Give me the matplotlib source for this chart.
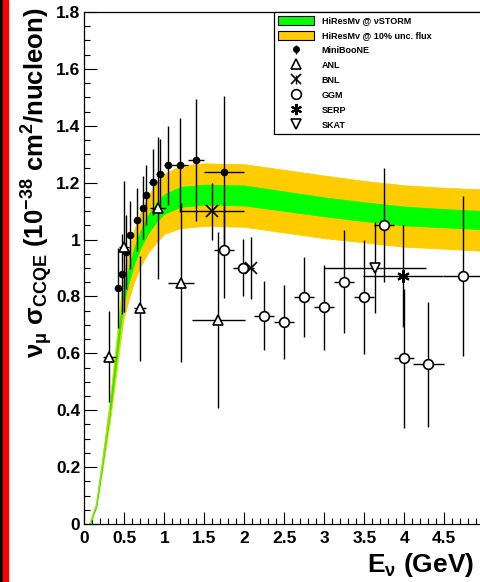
import numpy as np
import matplotlib
matplotlib.use("Agg")
import matplotlib.pyplot as plt
from matplotlib.patches import Patch, Rectangle

plt.rcParams['font.family'] = ['Liberation Sans', 'DejaVu Sans']
plt.rcParams['font.weight'] = 'bold'
plt.rcParams['mathtext.fontset'] = 'custom'
plt.rcParams['mathtext.rm'] = 'Liberation Sans:bold'
plt.rcParams['mathtext.it'] = 'Liberation Sans:bold'
plt.rcParams['mathtext.bf'] = 'Liberation Sans:bold'
plt.rcParams['mathtext.default'] = 'rm'

#prediction bands (HiResMv)
band_E = [0.07, 0.15, 0.22, 0.32, 0.40, 0.45, 0.49, 0.55, 0.62, 0.70, 0.80, 0.90,
          1.00, 1.20, 1.50, 2.00, 2.50, 3.00, 3.50, 4.00, 4.50, 5.00]
orange_lo = [0.0, 0.058, 0.18, 0.36, 0.53, 0.64, 0.72, 0.785, 0.85, 0.905, 0.955, 0.99,
             1.02, 1.04, 1.048, 1.045, 1.025, 1.005, 0.99, 0.975, 0.968, 0.96]
orange_hi = [0.0, 0.072, 0.22, 0.44, 0.65, 0.78, 0.88, 0.955, 1.03, 1.095, 1.155, 1.2,
             1.23, 1.26, 1.268, 1.265, 1.245, 1.225, 1.206, 1.191, 1.182, 1.176]
green_lo = [0.0, 0.063, 0.194, 0.388, 0.572, 0.689, 0.776, 0.844, 0.912, 0.97, 1.023, 1.062,
            1.091, 1.115, 1.123, 1.12, 1.101, 1.082, 1.065, 1.05, 1.043, 1.036]
green_hi = [0.0, 0.067, 0.206, 0.412, 0.608, 0.731, 0.824, 0.896, 0.968, 1.03, 1.087, 1.128,
            1.159, 1.185, 1.193, 1.19, 1.169, 1.148, 1.131, 1.116, 1.107, 1.1]

#MiniBooNE
mb_E = [0.42, 0.47, 0.52, 0.57, 0.655, 0.73, 0.77, 0.855, 0.95, 1.05, 1.2, 1.4, 1.75]
mb_v = [0.83, 0.88, 0.957, 1.015, 1.07, 1.112, 1.156, 1.202, 1.23, 1.261, 1.262, 1.279, 1.236]
mb_ey = [0.14, 0.14, 0.13, 0.12, 0.11, 0.11, 0.106, 0.115, 0.122, 0.138, 0.165, 0.215, 0.27]
mb_ex = [0.025, 0.025, 0.025, 0.025, 0.025, 0.025, 0.025, 0.05, 0.05, 0.05, 0.1, 0.1, 0.25]

#ANL
anl_E = [0.313, 0.50, 0.696, 0.92, 1.205, 1.675]
anl_v = [0.588, 0.975, 0.758, 1.11, 0.848, 0.717]
anl_ey = [0.16, 0.23, 0.185, 0.25, 0.28, 0.31]
anl_ex = [0.08, 0.06, 0.08, 0.1, 0.16, 0.33]

#BNL
bnl_E = [1.6, 2.09]
bnl_v = [1.1, 0.9]
bnl_ey = [0.10, 0.11]
bnl_ex = [0.4, 0.0]

#GGM
ggm_E = [1.75, 1.99, 2.24, 2.49, 2.74, 2.99, 3.24, 3.49, 3.74, 3.99, 4.3, 4.73]
ggm_v = [0.963, 0.901, 0.733, 0.711, 0.799, 0.762, 0.852, 0.799, 1.051, 0.582, 0.561, 0.872]
ggm_ey = [0.17, 0.1, 0.12, 0.13, 0.14, 0.15, 0.18, 0.2, 0.2, 0.245, 0.22, 0.28]
ggm_ex = [0.125, 0.125, 0.125, 0.125, 0.125, 0.125, 0.125, 0.125, 0.125, 0.125, 0.19, 0.25]

#SERP
serp_E = [3.98]
serp_v = [0.872]
serp_ey = [0.18]
serp_ex = [0.5]

#SKAT
skat_E = [3.63]
skat_v = [0.901]
skat_ey = [0.16]
skat_ex = [0.64]

orange = '#ffcc00'
green = '#00ff00'
star = (6, 2, 0)

fig = plt.figure(figsize=(4.81, 5.82), dpi=100)
ax = fig.add_axes([84.3/481, 58/582, 400/481, 512/582])

ax.fill_between(band_E, orange_lo, orange_hi, color=orange, lw=0.6, zorder=1)
ax.fill_between(band_E, green_lo, green_hi, color=green, lw=0.6, zorder=2)
ax.plot(band_E[:4], [(a+b)/2 for a, b in zip(green_lo[:4], green_hi[:4])], color='#99dd22', lw=1, zorder=2)

kw = dict(ecolor='black', elinewidth=1.0, capsize=0, zorder=5, linestyle='none')
ax.errorbar(mb_E, mb_v, yerr=mb_ey, xerr=mb_ex, fmt='o', ms=4.5, mfc='black', mec='black', **kw)
ax.errorbar(anl_E, anl_v, yerr=anl_ey, xerr=anl_ex, fmt='^', ms=7, mfc='white', mec='black', mew=1.2, **kw)
ax.errorbar(bnl_E, bnl_v, yerr=bnl_ey, xerr=bnl_ex, fmt='x', ms=8, mec='black', mew=1.2, **kw)
ax.errorbar(ggm_E, ggm_v, yerr=ggm_ey, xerr=ggm_ex, fmt='o', ms=7, mfc='white', mec='black', mew=1.2, **kw)
ax.errorbar(serp_E, serp_v, yerr=serp_ey, xerr=serp_ex, fmt='', marker=star, ms=9, mec='black', mew=1.5, **kw)
ax.errorbar(skat_E, skat_v, yerr=skat_ey, xerr=skat_ex, fmt='v', ms=7, mfc='white', mec='black', mew=1.2, **kw)

ax.set_xlim(0, 5)
ax.set_ylim(0, 1.8)
ax.set_xticks(np.arange(0, 5.01, 0.5))
ax.set_xticklabels(['0', '0.5', '1', '1.5', '2', '2.5', '3', '3.5', '4', '4.5', '5'])
ax.set_yticks(np.arange(0, 1.81, 0.2))
ax.set_yticklabels(['0', '0.2', '0.4', '0.6', '0.8', '1', '1.2', '1.4', '1.6', '1.8'])
ax.set_xticks(np.arange(0, 5.01, 0.1), minor=True)
ax.set_yticks(np.arange(0, 1.81, 0.05), minor=True)
ax.tick_params(which='major', direction='in', length=9, width=0.8, labelsize=12.5, top=False, right=False)
ax.tick_params(which='minor', direction='in', length=4.5, width=0.8, top=False, right=False)
ax.tick_params(axis='x', pad=5)
ax.tick_params(axis='y', pad=3)
for s in ax.spines.values():
    s.set_linewidth(0.9)

#legend
lk = dict(ecolor='black', elinewidth=1.0, linestyle='none')
h_mb = ax.errorbar([np.nan], [np.nan], yerr=[np.nan], fmt='o', ms=4, mfc='black', mec='black', **lk)
h_anl = ax.errorbar([np.nan], [np.nan], yerr=[np.nan], fmt='^', ms=7, mfc='white', mec='black', mew=1.2, **lk)
h_bnl = ax.errorbar([np.nan], [np.nan], yerr=[np.nan], fmt='x', ms=7, mec='black', mew=1.2, **lk)
h_ggm = ax.errorbar([np.nan], [np.nan], yerr=[np.nan], fmt='o', ms=7, mfc='white', mec='black', mew=1.2, **lk)
h_serp = ax.errorbar([np.nan], [np.nan], yerr=[np.nan], fmt='', marker=star, ms=8, mec='black', mew=1.5, **lk)
h_skat = ax.errorbar([np.nan], [np.nan], yerr=[np.nan], fmt='v', ms=7, mfc='white', mec='black', mew=1.2, **lk)
handles = [Patch(facecolor=green, edgecolor='black', lw=0.8),
           Patch(facecolor=orange, edgecolor='black', lw=0.8),
           h_mb, h_anl, h_bnl, h_ggm, h_serp, h_skat]
labels = ['HiResMv @ \u03bdSTORM', 'HiResMv @ 10% unc. flux', 'MiniBooNE', 'ANL', 'BNL', 'GGM', 'SERP', 'SKAT']
leg = ax.legend(handles, labels, loc='upper left', bbox_to_anchor=(0.474, 0.754, 0.53, 0.246),
                mode='expand', borderaxespad=0, fancybox=False, framealpha=1, edgecolor='black',
                prop={'size': 6.5, 'weight': 'bold'}, handlelength=4.0, handleheight=1.3,
                handletextpad=0.9, labelspacing=0.55, borderpad=0.4)
leg.get_frame().set_linewidth(0.9)
leg.set_zorder(10)

#axis titles
fig.text(367/481, 1 - 572/582, r'E$_{\nu}$ (GeV)', fontsize=19, fontweight='bold', ha='left', va='baseline')
fig.text(37/481, 1 - 8/582, r'$\nu_{\mu}$ $\sigma_{CCQE}$ (10$^{-38}$ cm$^{2}$/nucleon)',
         fontsize=18.5, fontweight='bold', rotation=90, ha='center', va='top')

#red strip on the left
fig.add_artist(Rectangle((0, 0), 3/481, 1, transform=fig.transFigure, color='black'))
fig.add_artist(Rectangle((3/481, 0), 5/481, 1, transform=fig.transFigure, color='#ff0000'))

fig.savefig('out.png', dpi=100)
